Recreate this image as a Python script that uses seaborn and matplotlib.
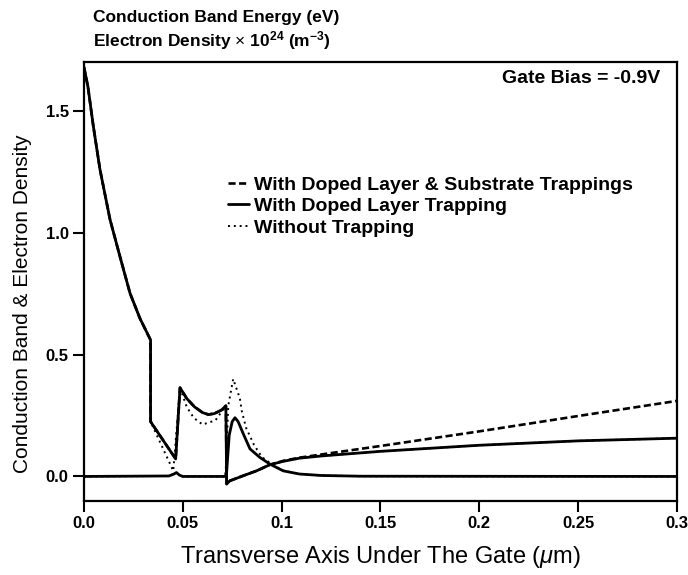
import matplotlib
matplotlib.use("Agg")
import matplotlib.pyplot as plt
import seaborn as sns

# conduction band / electron density vs transverse position (um)
# with doped layer trapping (solid)
x_cb_doped = [0.0, 0.002, 0.0047, 0.0081, 0.0132, 0.0182, 0.0233, 0.0283, 0.0337,
              0.0337, 0.0464, 0.0486, 0.052, 0.056, 0.060, 0.0629, 0.066, 0.0695,
              0.0718, 0.0722, 0.0738, 0.0806, 0.0873, 0.094, 0.1008, 0.109, 0.12,
              0.15, 0.2, 0.25, 0.3]
cb_doped = [1.68, 1.60, 1.44, 1.26, 1.054, 0.903, 0.752, 0.649, 0.56,
            0.225, 0.072, 0.364, 0.32, 0.285, 0.262, 0.254, 0.258, 0.272,
            0.29, -0.031, -0.018, 0.003, 0.023, 0.048, 0.062, 0.075, 0.084,
            0.103, 0.128, 0.146, 0.157]

# with doped layer & substrate trappings (dashed)
x_cb_subs = [0.0, 0.002, 0.0047, 0.0081, 0.0132, 0.0182, 0.0233, 0.0283, 0.0337,
             0.0337, 0.0464, 0.0486, 0.052, 0.056, 0.060, 0.0629, 0.066, 0.0695,
             0.0718, 0.0722, 0.0738, 0.0806, 0.0873, 0.094, 0.1008, 0.109, 0.12,
             0.15, 0.2, 0.25, 0.3]
cb_subs = [1.68, 1.60, 1.44, 1.26, 1.054, 0.903, 0.752, 0.649, 0.56,
           0.225, 0.072, 0.364, 0.32, 0.285, 0.262, 0.254, 0.258, 0.272,
           0.29, -0.031, -0.018, 0.003, 0.023, 0.048, 0.064, 0.077, 0.09,
           0.125, 0.185, 0.248, 0.31]

# without trapping (dotted)
x_cb_none = [0.0, 0.002, 0.0047, 0.0081, 0.0132, 0.0182, 0.0233, 0.0283, 0.0337,
             0.0337, 0.0452, 0.0486, 0.052, 0.0556, 0.060, 0.0665, 0.0718,
             0.0722, 0.0738, 0.0806, 0.0873, 0.094, 0.1008, 0.109, 0.12,
             0.15, 0.2, 0.25, 0.3]
cb_none = [1.68, 1.60, 1.44, 1.26, 1.054, 0.903, 0.752, 0.649, 0.56,
           0.225, 0.023, 0.364, 0.285, 0.24, 0.213, 0.23, 0.29,
           -0.031, -0.018, 0.003, 0.023, 0.048, 0.062, 0.075, 0.084,
           0.103, 0.128, 0.146, 0.157]

# electron density (x 1e24 m^-3)
x_ed = [0.0, 0.043, 0.0455, 0.0468, 0.0482, 0.050, 0.0715, 0.0722, 0.0735,
        0.075, 0.0764, 0.078, 0.0806, 0.084, 0.089, 0.094, 0.1008, 0.109,
        0.12, 0.14, 0.3]
ed_doped = [0.0, 0.002, 0.01, 0.016, 0.006, 0.0, 0.0, 0.02, 0.17,
            0.225, 0.241, 0.225, 0.175, 0.113, 0.078, 0.051, 0.023, 0.01,
            0.004, 0.001, 0.0]
x_ed_none = [0.0, 0.043, 0.0455, 0.0468, 0.0482, 0.050, 0.0716, 0.073,
             0.0755, 0.0789, 0.0798, 0.082, 0.086, 0.09, 0.095, 0.1008,
             0.109, 0.12, 0.14, 0.3]
ed_none = [0.0, 0.002, 0.01, 0.016, 0.006, 0.0, 0.0, 0.29,
           0.40, 0.32, 0.27, 0.20, 0.13, 0.08, 0.05, 0.024,
           0.01, 0.004, 0.001, 0.0]

x_ticks = [0.0, 0.05, 0.1, 0.15, 0.2, 0.25, 0.3]
x_tick_labels = ["0.0", "0.05", "0.1", "0.15", "0.2", "0.25", "0.3"]
y_ticks = [0.0, 0.5, 1.0, 1.5]
y_tick_labels = ["0.0", "0.5", "1.0", "1.5"]

sns.set_style("ticks", {"text.color": "black", "axes.labelcolor": "black",
                        "xtick.color": "black", "ytick.color": "black",
                        "axes.edgecolor": "black"})
plt.rcParams["font.family"] = ["Liberation Sans", "DejaVu Sans"]
plt.rcParams["mathtext.fontset"] = "custom"
plt.rcParams["mathtext.rm"] = "Liberation Sans"
plt.rcParams["mathtext.it"] = "Liberation Sans:italic"
plt.rcParams["mathtext.bf"] = "Liberation Sans:bold"

fig = plt.figure(figsize=(6.88, 5.75), dpi=100)
ax = fig.add_axes([0.122, 0.129, 0.862, 0.763])

dash = (0, (2.7, 1.3))
dot = (0, (1, 2))

# dashed first, then dotted, solid on top
sns.lineplot(x=x_cb_subs, y=cb_subs, ax=ax, color="black", lw=1.9,
             linestyle=dash, sort=False, estimator=None,
             label="With Doped Layer & Substrate Trappings")
sns.lineplot(x=x_cb_none, y=cb_none, ax=ax, color="black", lw=1.4,
             linestyle=dot, sort=False, estimator=None,
             label="Without Trapping")
sns.lineplot(x=x_ed_none, y=ed_none, ax=ax, color="black", lw=1.4,
             linestyle=dot, sort=False, estimator=None)
sns.lineplot(x=x_cb_doped, y=cb_doped, ax=ax, color="black", lw=2.0,
             sort=False, estimator=None, label="With Doped Layer Trapping")
sns.lineplot(x=x_ed, y=ed_doped, ax=ax, color="black", lw=2.0,
             sort=False, estimator=None)

ax.set_xlim(0, 0.3)
ax.set_ylim(-0.1, 1.7)
ax.set_xticks(x_ticks)
ax.set_xticklabels(x_tick_labels, fontsize=12, fontweight="bold")
ax.set_yticks(y_ticks)
ax.set_yticklabels(y_tick_labels, fontsize=12, fontweight="bold")
ax.tick_params(direction="out", length=8, width=1.5, color="black", pad=3)
for s in ax.spines.values():
    s.set_linewidth(1.6)
    s.set_color("black")

ax.set_xlabel(r"Transverse Axis Under The Gate ($\mu$m)", fontsize=17, labelpad=9)
ax.set_ylabel("Conduction Band & Electron Density", fontsize=15)
ax.yaxis.set_label_coords(-0.088, 0.45)

handles, labels = ax.get_legend_handles_labels()
order = [labels.index("With Doped Layer & Substrate Trappings"),
         labels.index("With Doped Layer Trapping"),
         labels.index("Without Trapping")]
ax.legend([handles[i] for i in order], [labels[i] for i in order],
          loc="upper left", bbox_to_anchor=(0.213, 0.78), frameon=False,
          handlelength=1.1, handletextpad=0.25, labelspacing=0.2,
          prop={"size": 14, "weight": "bold"})

ax.text(0.971, 0.9636, "Gate Bias = -0.9V", transform=ax.transAxes,
        ha="right", va="center", fontsize=14, fontweight="bold")
fig.text(0.135, 0.969, "Conduction Band Energy (eV)", ha="left", va="center",
         fontsize=12.5, fontweight="bold")
fig.text(0.135, 0.930, r"Electron Density $\times$ 10$^{\mathbf{24}}$ (m$^{\mathbf{-3}}$)",
         ha="left", va="center", fontsize=12.5, fontweight="bold")

fig.savefig("out.png", dpi=100)
